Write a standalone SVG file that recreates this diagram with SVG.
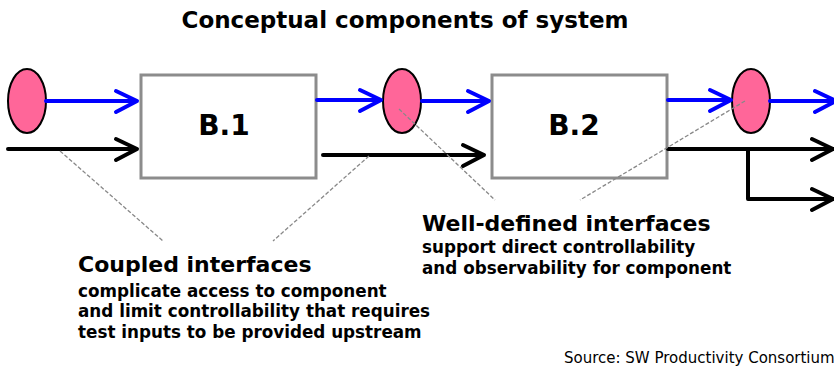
<svg xmlns="http://www.w3.org/2000/svg" width="834" height="368" viewBox="0 0 834 368">
  <style>
    text { font-family: "DejaVu Sans", Verdana, sans-serif; fill: #000; }
    .title { font-size: 23px; font-weight: bold; }
    .block { fill: #fff; stroke: #8c8c8c; stroke-width: 3; }
    .blabel { font-size: 28px; font-weight: bold; text-anchor: middle; }
    .port { fill: #ff6699; stroke: #000; stroke-width: 2; }
    .blue { stroke: #0000ff; stroke-width: 4; fill: none; stroke-linecap: round; stroke-linejoin: round; }
    .black { stroke: #000; stroke-width: 4; fill: none; stroke-linecap: round; stroke-linejoin: round; }
    .lead { stroke: #888; stroke-width: 1.3; stroke-dasharray: 4 2; fill: none; }
    .head { font-size: 22px; font-weight: bold; }
    .body { font-size: 16.8px; font-weight: bold; }
    .src { font-size: 15px; }
  </style>

  <text class="title" x="405" y="28" text-anchor="middle">Conceptual components of system</text>

  <g id="port-in">
    <ellipse class="port" cx="27" cy="101" rx="19" ry="32"/>
  </g>
  <g id="block-b1">
    <rect class="block" x="141" y="75" width="175" height="103"/>
    <text class="blabel" x="224" y="135">B.1</text>
  </g>
  <g id="port-mid">
    <ellipse class="port" cx="402" cy="101" rx="19" ry="32"/>
  </g>
  <g id="block-b2">
    <rect class="block" x="492" y="75" width="175" height="103"/>
    <text class="blabel" x="574" y="135">B.2</text>
  </g>
  <g id="port-out">
    <ellipse class="port" cx="751" cy="101" rx="19" ry="32"/>
  </g>

  <g id="connectors">
    <!-- signal flow, upper (blue) path -->
    <path class="blue" d="M46 101 H137 M116 91 L137 101 L116 112"/>
    <path class="blue" d="M317 100 H381 M360 90 L381 100 L360 111"/>
    <path class="blue" d="M422 101 H489 M468 91 L489 101 L468 112"/>
    <path class="blue" d="M668 100 H731 M710 90 L731 100 L710 111"/>
    <path class="blue" d="M770 101 H834 M815 91 L836 101 L815 112"/>
    <!-- coupled (black) path -->
    <path class="black" d="M8 149 H137 M116 139 L137 149 L116 160"/>
    <path class="black" d="M323 155 H484 M463 145 L484 155 L463 166"/>
    <path class="black" d="M668 149 H834 M812 139 L833 149 L812 160"/>
    <path class="black" d="M748 149 V199 H834 M812 189 L833 199 L812 210"/>
    <!-- callout leaders, drawn over the parts they point at -->
    <path class="lead" d="M60 151 L163 241"/>
    <path class="lead" d="M369 156 L273 241"/>
    <path class="lead" d="M399 109 L495 200"/>
    <path class="lead" d="M745 101 L580 200"/>
  </g>

  <g id="note-well-defined">
    <text class="head" x="422" y="231">Well-defined interfaces</text>
    <text class="body" x="422" y="253">support direct controllability</text>
    <text class="body" x="422" y="274">and observability for component</text>
  </g>

  <g id="note-coupled">
    <text class="head" x="78" y="272">Coupled interfaces</text>
    <text class="body" x="78" y="297">complicate access to component</text>
    <text class="body" x="78" y="317">and limit controllability that requires</text>
    <text class="body" x="78" y="338">test inputs to be provided upstream</text>
  </g>

  <text class="src" x="564" y="363">Source: SW Productivity Consortium</text>
</svg>
